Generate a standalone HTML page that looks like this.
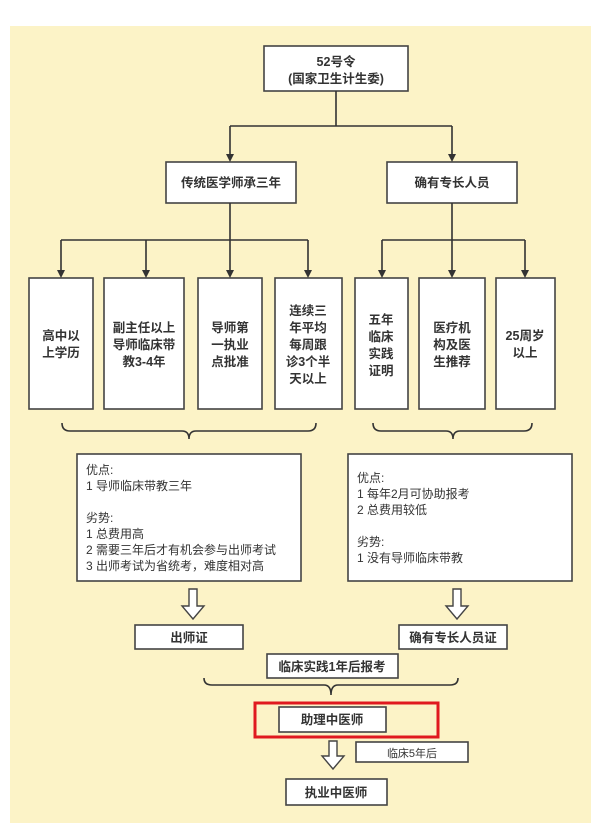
<!DOCTYPE html>
<html><head><meta charset="utf-8"><style>
html,body{margin:0;padding:0;background:#fff;}
svg{display:block}
text{font-family:"Liberation Sans","Noto Sans CJK SC",sans-serif;fill:#333;}
.b{font-weight:bold;font-size:12.5px;}
.t{font-size:12px;}
</style></head><body>
<svg width="611" height="839" viewBox="0 0 611 839" xmlns="http://www.w3.org/2000/svg">
<defs><marker id="a" markerWidth="8" markerHeight="10" refX="4" refY="9" orient="auto" markerUnits="userSpaceOnUse"><path d="M0,0 L8,0 L4,10 Z" fill="#333" transform="rotate(-90 4 5)"/></marker></defs>
<rect x="10" y="26" width="581" height="797" fill="#fcf3c7"/>
<g stroke="#444" stroke-width="1.6" fill="#fff">
<rect x="264" y="46" width="144" height="45"/>
<rect x="166" y="162" width="130" height="41"/>
<rect x="387" y="162" width="130" height="41"/>
<rect x="29" y="278" width="64" height="131"/>
<rect x="104" y="278" width="80" height="131"/>
<rect x="198" y="278" width="64" height="131"/>
<rect x="275" y="278" width="67" height="131"/>
<rect x="355" y="278" width="53" height="131"/>
<rect x="419" y="278" width="66" height="131"/>
<rect x="496" y="278" width="59" height="131"/>
<rect x="77" y="454" width="224" height="127"/>
<rect x="348" y="454" width="224" height="127"/>
<rect x="135" y="625" width="108" height="24"/>
<rect x="399" y="625" width="108" height="24"/>
<rect x="267" y="654" width="131" height="24"/>
<rect x="279" y="707" width="107" height="25"/>
<rect x="356" y="742" width="112" height="20"/>
<rect x="286" y="779" width="101" height="26"/>
</g>
<g stroke="#333" stroke-width="1.6" fill="none">
<path d="M336,91 V126 M230,126 H452"/>
<path d="M230,126 V155 M452,126 V155"/>
<path d="M230,203 V240 M61,240 H308 M452,203 V240 M382,240 H525"/>
<path d="M61,240 V270 M146,240 V270 M230,240 V270 M308,240 V270 M382,240 V270 M452,240 V270 M525,240 V270"/>
<path d="M62,423 Q62,431 70,431 H182 Q189,431 189,439 Q189,431 196,431 H308 Q316,431 316,423"/>
<path d="M373,423 Q373,431 381,431 H446 Q453,431 453,439 Q453,431 460,431 H524 Q532,431 532,423"/>
<path d="M204,678 Q204,685 212,685 H324 Q331,685 331,695 Q331,685 338,685 H450 Q458,685 458,678"/>
</g>
<g fill="#333">
<path d="M226,154 L234,154 L230,162Z M448,154 L456,154 L452,162Z"/>
<path d="M57,270 L65,270 L61,278Z M142,270 L150,270 L146,278Z M226,270 L234,270 L230,278Z M304,270 L312,270 L308,278Z M378,270 L386,270 L382,278Z M448,270 L456,270 L452,278Z M521,270 L529,270 L525,278Z"/>
</g>
<g stroke="#444" stroke-width="1.4" fill="#fff">
<path d="M189,589 H197 V606 H204 L193,619 L182,606 H189 Z"/>
<path d="M453,589 H461 V606 H468 L457,619 L446,606 H453 Z"/>
<path d="M329,741 H337 V756 H344 L333,769 L322,756 H329 Z"/>
</g>
<rect x="255" y="703" width="183" height="34" fill="none" stroke="#e0191f" stroke-width="3"/>
<g class="b" text-anchor="middle">
<text x="336" y="66">52号令</text><text x="336" y="83">(国家卫生计生委)</text>
<text x="231" y="187">传统医学师承三年</text><text x="452" y="187">确有专长人员</text>
<text x="61" y="340">高中以</text><text x="61" y="357">上学历</text>
<text x="144" y="332">副主任以上</text><text x="144" y="349">导师临床带</text><text x="144" y="366">教3-4年</text>
<text x="230" y="332">导师第</text><text x="230" y="349">一执业</text><text x="230" y="366">点批准</text>
<text x="308" y="315">连续三</text><text x="308" y="332">年平均</text><text x="308" y="349">每周跟</text><text x="308" y="366">诊3个半</text><text x="308" y="383">天以上</text>
<text x="381" y="324">五年</text><text x="381" y="341">临床</text><text x="381" y="358">实践</text><text x="381" y="375">证明</text>
<text x="452" y="332">医疗机</text><text x="452" y="349">构及医</text><text x="452" y="366">生推荐</text>
<text x="525" y="340">25周岁</text><text x="525" y="357">以上</text>
<text x="189" y="642">出师证</text><text x="453" y="642">确有专长人员证</text>
<text x="332" y="671">临床实践1年后报考</text>
<text x="332" y="724">助理中医师</text>
<text x="412" y="757" style="font-size:11px;font-weight:normal">临床5年后</text>
<text x="336" y="797">执业中医师</text>
</g>
<g class="t">
<text x="86" y="474">优点:</text><text x="86" y="490">1 导师临床带教三年</text>
<text x="86" y="522">劣势:</text><text x="86" y="538">1 总费用高</text><text x="86" y="554">2 需要三年后才有机会参与出师考试</text><text x="86" y="570">3 出师考试为省统考，难度相对高</text>
<text x="357" y="482">优点:</text><text x="357" y="498">1 每年2月可协助报考</text><text x="357" y="514">2 总费用较低</text>
<text x="357" y="546">劣势:</text><text x="357" y="562">1 没有导师临床带教</text>
</g>
</svg>
</body></html>
